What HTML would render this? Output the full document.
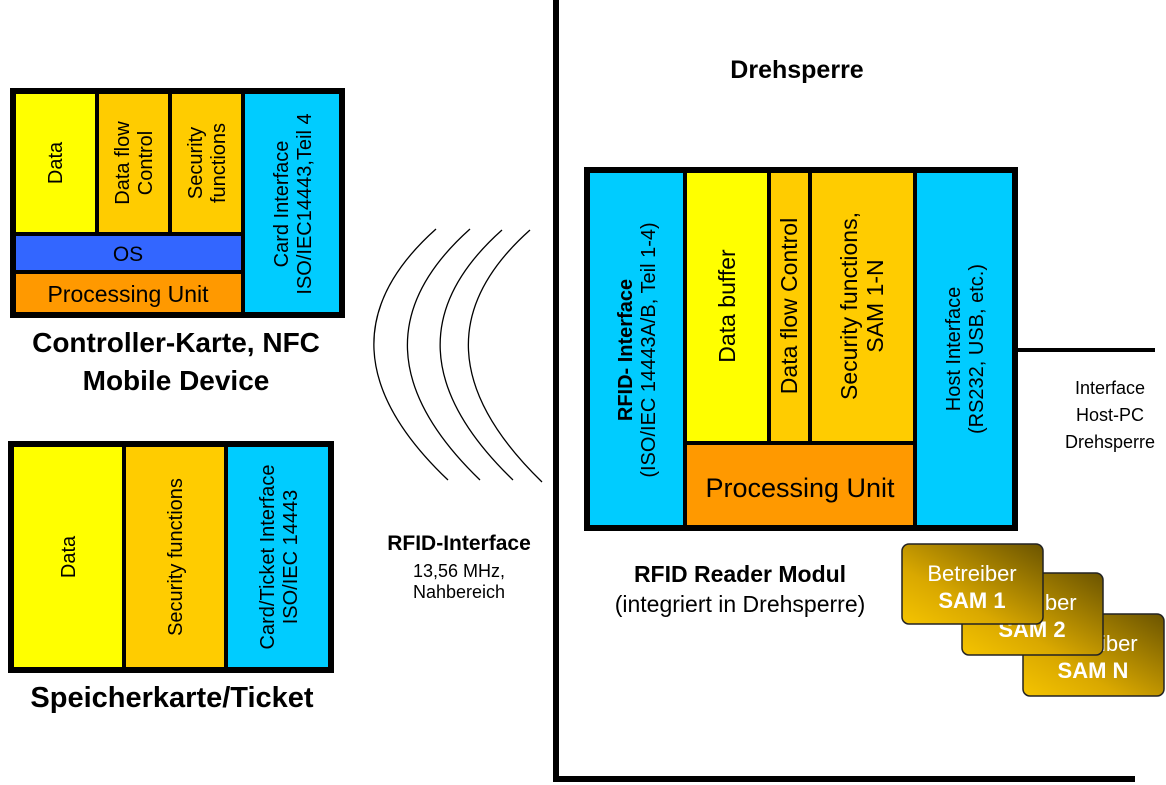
<!DOCTYPE html>
<html><head><meta charset="utf-8"><style>
html,body{margin:0;padding:0;background:#fff;}
svg{display:block;font-family:"Liberation Sans",Arial,sans-serif;}
</style></head><body>
<svg width="1166" height="785" viewBox="0 0 1166 785" xmlns="http://www.w3.org/2000/svg">
<defs>
<linearGradient id="g" x1="0" y1="1" x2="1" y2="0">
<stop offset="0" stop-color="#f5c400"/><stop offset="0.35" stop-color="#d9a800"/><stop offset="1" stop-color="#6b5400"/>
</linearGradient>
</defs>
<rect width="1166" height="785" fill="#fff"/>
<rect x="553" y="0" width="6" height="782" fill="#000"/>
<rect x="553" y="776" width="582" height="6" fill="#000"/>

<!-- Controller card -->
<g stroke="#000" stroke-width="4">
<rect x="12" y="90" width="331" height="226" fill="#000"/>
<rect x="14" y="92" width="83" height="142" fill="#ffff00"/>
<rect x="97" y="92" width="73" height="142" fill="#ffcc00"/>
<rect x="170" y="92" width="73" height="142" fill="#ffcc00"/>
<rect x="243" y="92" width="98" height="222" fill="#00ccff"/>
<rect x="14" y="234" width="229" height="38" fill="#3366ff"/>
<rect x="14" y="272" width="229" height="42" fill="#ff9900"/>
</g>
<g font-size="20" fill="#000" text-anchor="middle">
<text transform="translate(62,163) rotate(-90)">Data</text>
<text transform="translate(129,163) rotate(-90)">Data flow</text>
<text transform="translate(152,163) rotate(-90)">Control</text>
<text transform="translate(202,163) rotate(-90)">Security</text>
<text transform="translate(225,163) rotate(-90)">functions</text>
<text transform="translate(288,204) rotate(-90)">Card Interface</text>
<text transform="translate(311,204) rotate(-90)">ISO/IEC14443,Teil 4</text>
<text x="128" y="261" font-size="21">OS</text>
<text x="128" y="302" font-size="23">Processing Unit</text>
</g>
<g font-size="28" font-weight="bold" text-anchor="middle">
<text x="176" y="352">Controller-Karte, NFC</text>
<text x="176" y="390">Mobile Device</text>
</g>

<!-- Speicherkarte -->
<g stroke="#000" stroke-width="4">
<rect x="10" y="443" width="322" height="228" fill="#000"/>
<rect x="12" y="445" width="112" height="224" fill="#ffff00"/>
<rect x="124" y="445" width="102" height="224" fill="#ffcc00"/>
<rect x="226" y="445" width="104" height="224" fill="#00ccff"/>
</g>
<g font-size="20" text-anchor="middle">
<text transform="translate(75,557) rotate(-90)">Data</text>
<text transform="translate(182,557) rotate(-90)">Security functions</text>
<text transform="translate(274,557) rotate(-90)">Card/Ticket Interface</text>
<text transform="translate(297,557) rotate(-90)">ISO/IEC 14443</text>
</g>
<text x="172" y="707" font-size="29" font-weight="bold" text-anchor="middle">Speicherkarte/Ticket</text>

<!-- arcs -->
<g fill="none" stroke="#000" stroke-width="1.3">
<path d="M436,229 Q306,345 448,480"/>
<path d="M470,229 Q340,345 480,480"/>
<path d="M502,230 Q373,345 513,480"/>
<path d="M530,230 Q401,345 542,482"/>
</g>
<text x="459" y="550" font-size="21" font-weight="bold" text-anchor="middle">RFID-Interface</text>
<text x="459" y="577" font-size="18" text-anchor="middle">13,56 MHz,</text>
<text x="459" y="598" font-size="18" text-anchor="middle">Nahbereich</text>

<text x="797" y="78" font-size="25" font-weight="bold" text-anchor="middle">Drehsperre</text>

<!-- Reader -->
<g stroke="#000" stroke-width="4">
<rect x="586" y="169" width="430" height="360" fill="#000"/>
<rect x="588" y="171" width="97" height="356" fill="#00ccff"/>
<rect x="685" y="171" width="84" height="272" fill="#ffff00"/>
<rect x="769" y="171" width="41" height="272" fill="#ffcc00"/>
<rect x="810" y="171" width="105" height="272" fill="#ffcc00"/>
<rect x="685" y="443" width="230" height="84" fill="#ff9900"/>
<rect x="915" y="171" width="99" height="356" fill="#00ccff"/>
</g>
<g text-anchor="middle">
<text transform="translate(632,350) rotate(-90)" font-size="20" font-weight="bold"><tspan>RFID- Interface</tspan></text>
<text transform="translate(655,350) rotate(-90)" font-size="20">(ISO/IEC 14443A/B, Teil 1-4)</text>
<text transform="translate(735,306) rotate(-90)" font-size="23">Data buffer</text>
<text transform="translate(797,306) rotate(-90)" font-size="23">Data flow Control</text>
<text transform="translate(857,306) rotate(-90)" font-size="23">Security functions,</text>
<text transform="translate(883,306) rotate(-90)" font-size="23">SAM 1-N</text>
<text transform="translate(960,349) rotate(-90)" font-size="20">Host Interface</text>
<text transform="translate(983,349) rotate(-90)" font-size="20">(RS232, USB, etc.)</text>
<text x="800" y="497" font-size="27">Processing Unit</text>
</g>
<rect x="1017" y="348" width="138" height="4" fill="#000"/>
<g font-size="18" text-anchor="middle">
<text x="1110" y="394">Interface</text>
<text x="1110" y="421">Host-PC</text>
<text x="1110" y="448">Drehsperre</text>
</g>
<text x="740" y="582" font-size="23" font-weight="bold" text-anchor="middle">RFID Reader Modul</text>
<text x="740" y="612" font-size="23" text-anchor="middle">(integriert in Drehsperre)</text>

<!-- SAMs -->
<rect x="1023" y="614" width="141" height="82" rx="7" fill="url(#g)" stroke="#222" stroke-width="1.5"/>
<g font-size="22" fill="#fff" text-anchor="middle">
<text x="1093" y="651">Betreiber</text>
<text x="1093" y="678" font-weight="bold">SAM N</text>
</g>
<rect x="962" y="573" width="141" height="82" rx="7" fill="url(#g)" stroke="#222" stroke-width="1.5"/>
<g font-size="22" fill="#fff" text-anchor="middle">
<text x="1032" y="610">Betreiber</text>
<text x="1032" y="637" font-weight="bold">SAM 2</text>
</g>
<rect x="902" y="544" width="141" height="80" rx="7" fill="url(#g)" stroke="#222" stroke-width="1.5"/>
<g font-size="22" fill="#fff" text-anchor="middle">
<text x="972" y="581">Betreiber</text>
<text x="972" y="608" font-weight="bold">SAM 1</text>
</g>
</svg>
</body></html>
